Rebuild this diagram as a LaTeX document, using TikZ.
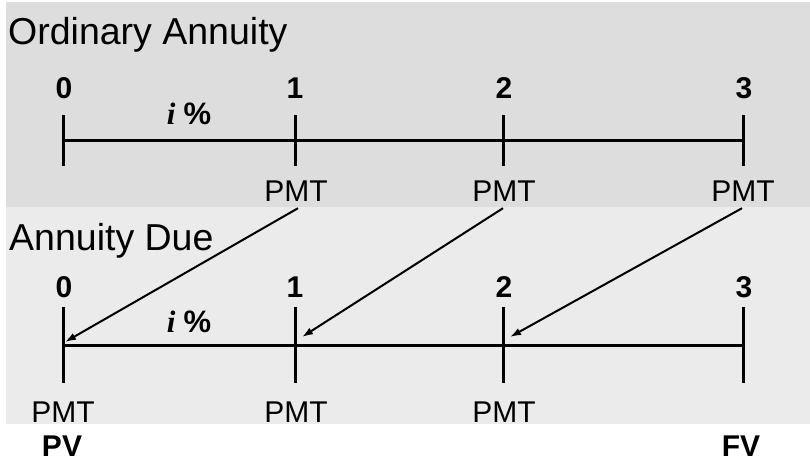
\documentclass[tikz,border=0pt]{standalone}
\usepackage{fontspec}
\setmainfont{Liberation Sans}
\newfontfamily\rateserif{Liberation Serif}
\usetikzlibrary{arrows.meta}
\definecolor{bandA}{HTML}{DDDDDD}
\definecolor{bandB}{HTML}{EBEBEB}
\begin{document}
\begin{tikzpicture}[x=1pt,y=-1pt,
  lbl/.style={inner sep=0pt, anchor=base, font=\fontsize{30}{30}\selectfont},
  num/.style={inner sep=0pt, anchor=base, font=\fontsize{30}{30}\selectfont\bfseries},
  ttl/.style={inner sep=0pt, anchor=base west, font=\fontsize{37.5}{38}\selectfont},
  rate/.style={inner sep=0pt, anchor=base, font=\fontsize{31}{31}\selectfont\bfseries},
  big/.style={inner sep=0pt, anchor=base, font=\fontsize{30}{30}\selectfont\bfseries},
  axis/.style={line width=3pt},
  arr/.style={line width=2pt, -{Latex[length=11pt,width=7.5pt]}}]
\useasboundingbox (0,0) rectangle (810,462);
\fill[white] (0,0) rectangle (810,462);
\fill[bandA] (6,2) rectangle (810,207);
\fill[bandB] (6,207) rectangle (810,424);

% titles
\node[ttl] (t1) at (8,45) {Ordinary Annuity};
\node[ttl] (t2) at (9,250) {Annuity Due};

% top timeline
\draw[axis] (63,141) -- (743,141);
\foreach \x in {63,295,503,743} \draw[axis] (\x,115) -- (\x,166);
\node[num] (n0) at (64,99) {0};
\node[num] (n1) at (295,99) {1};
\node[num] (n2) at (504,99) {2};
\node[num] (n3) at (744,99) {3};
\node[rate] (r1) at (189,125) {{\rateserif\itshape i}\hspace{8pt}\%};
\node[lbl] (p1) at (296,202) {PMT};
\node[lbl] (p2) at (504,202) {PMT};
\node[lbl] (p3) at (743,202) {PMT};

% bottom timeline
\draw[axis] (63,345) -- (743,345);
\foreach \x in {63,295,503,743} \draw[axis] (\x,307) -- (\x,383);
\node[num] (m0) at (64,297) {0};
\node[num] (m1) at (295,297) {1};
\node[num] (m2) at (504,297) {2};
\node[num] (m3) at (744,297) {3};
\node[rate] (r2) at (189,332) {{\rateserif\itshape i}\hspace{8pt}\%};
\node[lbl] (q0) at (63,422) {PMT};
\node[lbl] (q1) at (296,422) {PMT};
\node[lbl] (q2) at (504,422) {PMT};
\node[big] (pv) at (62,456) {PV};
\node[big] (fv) at (741,456) {FV};

% arrows
\coordinate (e0) at (65,342);
\coordinate (e1) at (302,337);
\coordinate (e2) at (510,337);
\draw[arr] ([xshift=2pt,yshift=-6pt]p1.south) -- (e0);
\draw[arr] ([xshift=-1pt,yshift=-6pt]p2.south) -- (e1);
\draw[arr] ([xshift=-1pt,yshift=-6pt]p3.south) -- (e2);
\end{tikzpicture}
\end{document}
